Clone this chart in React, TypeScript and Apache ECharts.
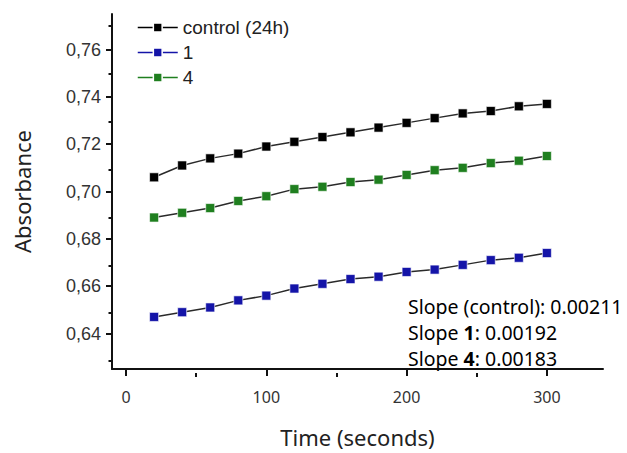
import React, { useEffect, useRef } from "react";
import * as echarts from "echarts";

const times = [20, 40, 60, 80, 100, 120, 140, 160, 180, 200, 220, 240, 260, 280, 300];
const controlValues = [0.706, 0.711, 0.714, 0.716, 0.719, 0.721, 0.723, 0.725, 0.727, 0.729, 0.731, 0.733, 0.734, 0.736, 0.737];
const series1Values = [0.647, 0.649, 0.651, 0.654, 0.656, 0.659, 0.661, 0.663, 0.664, 0.666, 0.667, 0.669, 0.671, 0.672, 0.674];
const series4Values = [0.689, 0.691, 0.693, 0.696, 0.698, 0.701, 0.702, 0.704, 0.705, 0.707, 0.709, 0.710, 0.712, 0.713, 0.715];
const seriesNames = ["control (24h)", "1", "4"];
const seriesColors = ["#000000", "#1414a8", "#1f7f1f"];
const xMajorTicks = [0, 100, 200, 300];
const xMinorTicks = [50, 150, 250];
const yMajorTicks = [0.64, 0.66, 0.68, 0.7, 0.72, 0.74, 0.76];
const yMinorTicks = [0.63, 0.65, 0.67, 0.69, 0.71, 0.73, 0.75, 0.77];
const slopeLabels = ["control", "1", "4"];
const slopeValues = ["0.00211", "0.00192", "0.00183"];

export default function App() {
  const ref = useRef<HTMLDivElement>(null);
  useEffect(() => {
    if (!ref.current) return;
    const chart = echarts.init(ref.current, null, { renderer: "svg" });
    const allValues = [controlValues, series1Values, series4Values];
    const axisFont = "Liberation Sans";
    const xMin = -10, xMax = 340, yMin = 0.625, yMax = 0.775;
    const gridRect = { left: 112, top: 14, right: 24, bottom: 80, containLabel: false };
    const baseX = {
      type: "value" as const,
      min: xMin,
      max: xMax,
      splitLine: { show: false },
    };
    const baseY = {
      type: "value" as const,
      min: yMin,
      max: yMax,
      splitLine: { show: false },
    };
    chart.setOption({
      animation: false,
      backgroundColor: "#ffffff",
      grid: [gridRect, { ...gridRect }],
      legend: {
        orient: "vertical",
        left: 132,
        top: 13,
        itemWidth: 40,
        itemHeight: 11,
        itemGap: 6,
        textStyle: { fontFamily: axisFont, fontSize: 19, color: "#222", lineHeight: 19 },
        data: seriesNames.map((n, i) => ({
          name: n,
          itemStyle: { color: seriesColors[i], borderColor: "#ffffff", borderWidth: 1.5 },
          lineStyle: { color: seriesColors[i], width: 1.5 },
        })),
      },
      xAxis: [
        {
          ...baseX,
          gridIndex: 0,
          name: "Time (seconds)",
          nameLocation: "middle",
          nameGap: 57,
          nameTextStyle: { fontFamily: "Noto Sans", fontSize: 22, color: "#222" },
          axisLine: { onZero: false, lineStyle: { color: "#111", width: 2 } },
          axisTick: { show: true, customValues: xMajorTicks, length: 7, lineStyle: { color: "#111", width: 2 } },
          axisLabel: {
            customValues: xMajorTicks,
            margin: 20,
            fontFamily: "Noto Sans",
            fontSize: 16,
            color: "#333",
          },
        },
        {
          ...baseX,
          gridIndex: 1,
          position: "bottom",
          axisLine: { show: false, onZero: false },
          axisTick: { show: true, customValues: xMinorTicks, length: 4, lineStyle: { color: "#111", width: 2 } },
          axisLabel: { show: false },
        },
      ],
      yAxis: [
        {
          ...baseY,
          gridIndex: 0,
          name: "Absorbance",
          nameLocation: "middle",
          nameGap: 79,
          nameTextStyle: { fontFamily: "Noto Sans", fontSize: 22, color: "#222" },
          axisLine: { onZero: false, lineStyle: { color: "#111", width: 2 } },
          axisTick: { show: true, customValues: yMajorTicks, length: 6, lineStyle: { color: "#111", width: 2 } },
          axisLabel: {
            customValues: yMajorTicks,
            margin: 11,
            fontFamily: axisFont,
            fontSize: 18,
            color: "#333",
            formatter: (v: number) => v.toFixed(2).replace(".", ","),
          },
        },
        {
          ...baseY,
          gridIndex: 1,
          position: "left",
          axisLine: { show: false, onZero: false },
          axisTick: { show: true, customValues: yMinorTicks, length: 3.5, lineStyle: { color: "#111", width: 2 } },
          axisLabel: { show: false },
        },
      ],
      series: seriesNames.map((n, i) => ({
        name: n,
        type: "line",
        xAxisIndex: 0,
        yAxisIndex: 0,
        data: times.map((t, j) => [t, allValues[i][j]]),
        symbol: "rect",
        symbolSize: 9,
        showSymbol: true,
        itemStyle: { color: seriesColors[i], borderColor: "rgba(255,255,255,0.6)", borderWidth: 1 },
        lineStyle: { color: "#2a2a2a", width: 1.5 },
        emphasis: { disabled: true },
      })),
      graphic: [
        {
          type: "text",
          left: 408,
          top: 296,
          style: {
            text: [
              `{n|Slope (${slopeLabels[0]}): ${slopeValues[0]}}`,
              `{n|Slope }{b|${slopeLabels[1]}}{n|: ${slopeValues[1]}}`,
              `{n|Slope }{b|${slopeLabels[2]}}{n|: ${slopeValues[2]}}`,
            ].join("\n"),
            rich: {
              n: { fontFamily: "Noto Sans", fontSize: 19.5, color: "#333", lineHeight: 26 },
              b: { fontFamily: "Noto Sans", fontSize: 19.5, fontWeight: "bold", color: "#222", lineHeight: 26 },
            },
          },
        },
      ],
    });
    return () => chart.dispose();
  }, []);
  return <div ref={ref} style={{ width: 627, height: 453, position: "absolute", left: 0, top: 0 }} />;
}
